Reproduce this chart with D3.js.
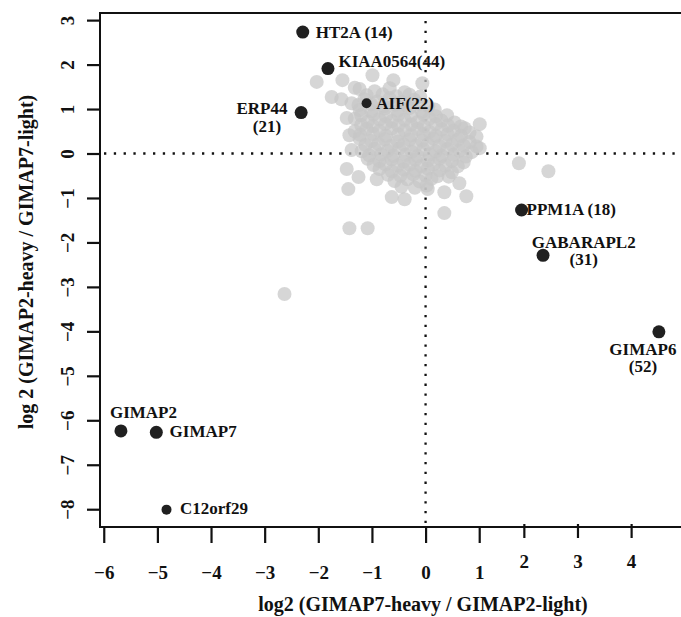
<!DOCTYPE html>
<html>
<head>
<meta charset="utf-8">
<script src="https://cdn.jsdelivr.net/npm/d3@7"></script>
<style>
  body { margin: 0; background: #fff; }
  svg { display: block; }
  text { font-family: "Liberation Serif", "DejaVu Serif", serif; font-weight: bold; fill: #111; }
</style>
</head>
<body>
<div id="wrapper"></div>
<script>
// background proteins (grey), [x, y] in log2 units
const greyPoints = [
  [-2.03, 1.61], [-1.55, 1.65], [-0.99, 1.76], [-0.60, 1.65], [-0.06, 1.58],
  [-1.75, 1.27], [-1.57, 1.22], [-1.38, 1.13], [-1.47, 0.80], [-1.23, 0.98],
  [1.01, 0.66], [0.73, 0.57], [1.01, 0.12], [1.74, -0.22], [2.29, -0.40],
  [-1.47, -0.35], [-1.25, -0.53], [-1.44, -0.80], [-0.63, -0.98], [-0.39, -1.03],
  [-0.91, -0.58], [0.04, -0.80], [0.35, -0.87], [0.76, -0.96], [0.35, -1.34],
  [0.63, -0.67], [-1.42, -1.68], [-1.08, -1.68], [-2.63, -3.16],
  [-1.42, 0.41], [-1.38, 0.08],
  [-1.32, 1.48], [-1.23, 1.45], [-0.95, 1.40], [-0.67, 1.47], [-0.39, 1.38],
  [-1.14, 1.22], [-0.90, 1.17], [-0.67, 1.24], [-0.45, 1.16], [-0.21, 1.21],
  [-1.01, 0.95], [-0.76, 1.01], [-0.52, 0.96], [-0.30, 1.02], [-0.07, 0.94], [0.17, 0.99],
  [-1.32, 0.78], [-1.08, 0.72], [-0.86, 0.77], [-0.63, 0.73], [-0.39, 0.76],
  [-0.15, 0.71], [0.07, 0.78], [0.30, 0.74], [0.54, 0.70],
  [-1.32, 0.50], [-1.10, 0.55], [-0.86, 0.51], [-0.63, 0.56], [-0.39, 0.52],
  [-0.15, 0.55], [0.07, 0.49], [0.30, 0.54], [0.52, 0.51], [0.82, 0.47],
  [-1.23, 0.33], [-1.01, 0.28], [-0.76, 0.32], [-0.52, 0.27], [-0.30, 0.31],
  [-0.07, 0.29], [0.15, 0.33], [0.37, 0.28], [0.60, 0.31], [0.82, 0.26],
  [-1.19, 0.05], [-0.95, 0.10], [-0.71, 0.06], [-0.49, 0.11], [-0.26, 0.04],
  [-0.04, 0.09], [0.19, 0.05], [0.41, 0.10], [0.63, 0.06], [0.86, 0.03],
  [-1.08, -0.12], [-0.86, -0.17], [-0.63, -0.13], [-0.41, -0.18], [-0.19, -0.14],
  [0.04, -0.16], [0.26, -0.12], [0.49, -0.17], [0.71, -0.20],
  [-0.86, -0.35], [-0.63, -0.40], [-0.41, -0.36], [-0.19, -0.39], [0.04, -0.34],
  [0.26, -0.38], [0.49, -0.42],
  [-0.58, -0.62], [-0.34, -0.58], [-0.11, -0.63], [0.11, -0.57],
  [-1.10, 1.31], [-0.80, 1.33], [-0.55, 1.29], [-0.30, 1.32], [-0.10, 1.28],
  [-1.25, 1.09], [-1.02, 1.11], [-0.78, 1.07], [-0.57, 1.10], [-0.35, 1.08],
  [-0.12, 1.11], [0.05, 1.06],
  [-1.20, 0.86], [-0.97, 0.88], [-0.74, 0.84], [-0.51, 0.87], [-0.27, 0.85],
  [-0.04, 0.88], [0.19, 0.84], [0.40, 0.86],
  [-1.20, 0.64], [-0.98, 0.62], [-0.75, 0.66], [-0.51, 0.63], [-0.27, 0.65],
  [-0.03, 0.62], [0.19, 0.66], [0.42, 0.63], [0.66, 0.61],
  [-1.22, 0.42], [-0.98, 0.44], [-0.74, 0.40], [-0.51, 0.43], [-0.27, 0.41],
  [-0.04, 0.44], [0.19, 0.40], [0.41, 0.43], [0.66, 0.40], [0.95, 0.38],
  [-1.12, 0.19], [-0.88, 0.21], [-0.64, 0.17], [-0.41, 0.20], [-0.18, 0.18],
  [0.04, 0.21], [0.26, 0.17], [0.49, 0.20], [0.71, 0.18], [0.95, 0.16],
  [-1.05, -0.04], [-0.83, -0.02], [-0.60, -0.05], [-0.37, -0.03], [-0.15, -0.06],
  [0.08, -0.02], [0.30, -0.05], [0.52, -0.03], [0.75, -0.07],
  [-0.97, -0.26], [-0.75, -0.24], [-0.52, -0.27], [-0.30, -0.25], [-0.08, -0.28],
  [0.15, -0.24], [0.37, -0.27], [0.60, -0.29],
  [-0.70, -0.48], [-0.47, -0.50], [-0.23, -0.47], [0.00, -0.49], [0.22, -0.51], [0.43, -0.52],
  [-0.45, -0.75], [-0.20, -0.77], [0.02, -0.72]
]

// highlighted proteins
const hitNames = ["HT2A", "KIAA0564", "AIF", "ERP44", "PPM1A", "GABARAPL2", "GIMAP6", "GIMAP2", "GIMAP7", "C12orf29"]
const hitX = [-2.29, -1.82, -1.10, -2.32, 1.79, 2.19, 4.35, -5.68, -5.02, -4.83]
const hitY = [2.73, 1.91, 1.13, 0.92, -1.27, -2.29, -4.01, -6.24, -6.27, -8.01]
const hitLabels = [
  ["HT2A (14)"], ["KIAA0564(44)"], ["AIF(22)"], ["ERP44", "(21)"], ["PPM1A (18)"],
  ["GABARAPL2", "(31)"], ["GIMAP6", "(52)"], ["GIMAP2"], ["GIMAP7"], ["C12orf29"]
]

const xTicks = [-6, -5, -4, -3, -2, -1, 0, 1]
const xTicksRight = [2, 3, 4]
const yTicks = [3, 2, 1, 0, -1, -2, -3, -4, -5, -6, -7, -8]

const xTitle = "log2 (GIMAP7-heavy / GIMAP2-light)"
const yTitle = "log 2 (GIMAP2-heavy / GIMAP7-light)"

// label placement relative to each dot (px): [anchor, dx per line, dy per line]
const labelLayout = {
  HT2A: ["start", [13], [5.5]],
  KIAA0564: ["start", [10.5], [-1.3]],
  AIF: ["start", [9.7], [5.5]],
  ERP44: ["end", [-13.7, -20], [1.3, 19.8]],
  PPM1A: ["start", [5], [5]],
  GABARAPL2: ["middle", [40.7, 40.7], [-7.5, 9.8]],
  GIMAP6: ["middle", [-16, -16], [23, 40]],
  GIMAP2: ["start", [-11], [-12.7]],
  GIMAP7: ["start", [13.3], [4.4]],
  C12orf29: ["start", [13.4], [4.7]],
}

const width = 681
const height = 617
const plot = { left: 100, right: 690, top: 13, bottom: 527 }

const svg = d3.select("#wrapper").append("svg")
  .attr("width", width)
  .attr("height", height)

const xScale = d3.scaleLinear().domain([-6.07, 4.93]).range([plot.left, plot.right])
const yScale = d3.scaleLinear().domain([-8.4, 3.16]).range([plot.bottom, plot.top])

// reference lines at zero
svg.append("line")
  .attr("x1", plot.left).attr("x2", width)
  .attr("y1", yScale(0)).attr("y2", yScale(0))
  .attr("stroke", "#111").attr("stroke-width", 2.3)
  .attr("stroke-dasharray", "2.3 7.5")
  .attr("stroke-dashoffset", -4)
svg.append("line")
  .attr("x1", xScale(0)).attr("x2", xScale(0))
  .attr("y1", plot.top + 8).attr("y2", plot.bottom - 4)
  .attr("stroke", "#111").attr("stroke-width", 2.3)
  .attr("stroke-dasharray", "2.3 7.5")

// grey cloud
svg.append("g").selectAll("circle")
  .data(greyPoints)
  .join("circle")
  .attr("cx", (d) => xScale(d[0]))
  .attr("cy", (d) => yScale(d[1]))
  .attr("r", 7)
  .attr("fill", "#c6c6c6")
  .attr("fill-opacity", 0.72)

// hits
const hits = hitNames.map((name, i) => ({ name, x: hitX[i], y: hitY[i], lines: hitLabels[i] }))
const smallDots = ["AIF", "C12orf29"]

svg.append("g").selectAll("circle")
  .data(hits)
  .join("circle")
  .attr("cx", (d) => xScale(d.x))
  .attr("cy", (d) => yScale(d.y))
  .attr("r", (d) => (smallDots.includes(d.name) ? 5 : 6.5))
  .attr("fill", "#202020")

const labelG = svg.append("g").style("font-size", "17px")
hits.forEach((d) => {
  const [anchor, dxs, dys] = labelLayout[d.name]
  d.lines.forEach((line, j) => {
    labelG.append("text")
      .attr("x", xScale(d.x) + dxs[j])
      .attr("y", yScale(d.y) + dys[j])
      .attr("text-anchor", anchor)
      .text(line)
  })
})

// frame (left, top, bottom)
svg.append("path")
  .attr("d", `M${width + 5},${plot.top}H${plot.left}V${plot.bottom}H${width + 5}`)
  .attr("fill", "none")
  .attr("stroke", "#111")
  .attr("stroke-width", 2)

// axes
const xAxis = svg.append("g")
  .attr("transform", `translate(0, ${plot.bottom})`)
  .call(d3.axisBottom(xScale).tickValues(xTicks).tickSize(16).tickPadding(23))
const xAxisRight = svg.append("g")
  .attr("transform", `translate(-9, ${plot.bottom - 3})`)
  .call(d3.axisBottom(xScale).tickValues(xTicksRight).tickSize(14).tickPadding(17))

const yAxis = svg.append("g")
  .attr("transform", `translate(${plot.left}, 0)`)
  .call(d3.axisLeft(yScale).tickValues(yTicks).tickSize(13))

;[xAxis, xAxisRight, yAxis].forEach((ax) => {
  ax.select(".domain").remove()
  ax.selectAll(".tick line").attr("stroke", "#111").attr("stroke-width", 2.2)
  ax.selectAll(".tick text")
    .attr("fill", "#111")
    .style("font-size", "19px")
    .style("font-family", "Liberation Serif, serif")
    .style("font-weight", "bold")
})

yAxis.selectAll(".tick text")
  .attr("x", null)
  .attr("dy", null)
  .attr("text-anchor", "middle")
  .attr("transform", "translate(-26, 0) rotate(-90)")

// axis titles
svg.append("text")
  .attr("x", 423)
  .attr("y", 611)
  .attr("text-anchor", "middle")
  .style("font-size", "20px")
  .text(xTitle)

svg.append("text")
  .attr("transform", `translate(33, 262) rotate(-90)`)
  .attr("text-anchor", "middle")
  .style("font-size", "20px")
  .text(yTitle)
</script>
</body>
</html>
